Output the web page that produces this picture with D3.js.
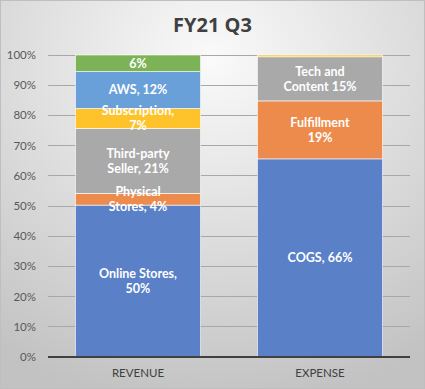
<!DOCTYPE html>
<html>
<head>
<meta charset="utf-8">
<script src="https://cdn.jsdelivr.net/npm/d3@7"></script>
<style>
  body { margin: 0; }
  svg { display: block; font-family: Lato, "Open Sans", sans-serif; }
</style>
</head>
<body>
<svg width="425" height="389"></svg>
<script>
const categories = ["REVENUE", "EXPENSE"];

// segments bottom -> top
const revenueNames = ["Online Stores", "Physical Stores", "Third-party Seller", "Subscription", "AWS", "Other"];
const revenueValues = [50.3, 3.9, 21.5, 6.6, 12.2, 5.5];
const revenueLabels = [["Online Stores,", "50%"], ["Physical", "Stores, 4%"], ["Third-party", "Seller, 21%"], ["Subscription,", "7%"], ["AWS, 12%"], ["6%"]];
const revenueColors = ["#5a80c8", "#ed8b4c", "#a9a9a9", "#fec32b", "#6aa0d9", "#7cb357"];

const expenseNames = ["COGS", "Fulfillment", "Tech and Content", "Other"];
const expenseValues = [65.6, 19.2, 14.6, 0.6];
const expenseLabels = [["COGS, 66%"], ["Fulfillment", "19%"], ["Tech and", "Content  15%"], []];
const expenseColors = ["#5a80c8", "#ed8b4c", "#a9a9a9", "#fec32b"];

const yTicks = [0, 10, 20, 30, 40, 50, 60, 70, 80, 90, 100];

const svg = d3.select("svg");
const W = 425, H = 389;

// background
const defs = svg.append("defs");
const grad = defs.append("radialGradient")
    .attr("id", "bg").attr("cx", "50%").attr("cy", "15%").attr("r", "90%");
grad.append("stop").attr("offset", "0%").attr("stop-color", "#fafafa");
grad.append("stop").attr("offset", "100%").attr("stop-color", "#c2c2c2");
svg.append("rect").attr("x", 0.5).attr("y", 0.5).attr("width", W - 1).attr("height", H - 1)
    .attr("fill", "url(#bg)").attr("stroke", "#bfbfbf");

svg.append("text")
    .attr("x", W / 2).attr("y", 32)
    .attr("text-anchor", "middle")
    .attr("font-family", "'Open Sans', sans-serif")
    .attr("font-size", 20).attr("font-weight", "bold")
    .attr("fill", "#404040")
    .text("FY21 Q3");

const plotLeft = 48, plotRight = 410, plotTop = 55, plotBottom = 357;

const x = d3.scaleBand().domain(categories).range([plotLeft, plotRight]).paddingInner(0.313).paddingOuter(0.151);
const y = d3.scaleLinear().domain([0, 100]).range([plotBottom, plotTop]);

// gridlines
svg.append("g").selectAll("line")
    .data(yTicks.slice(1))
    .join("line")
    .attr("x1", plotLeft).attr("x2", plotRight)
    .attr("y1", d => y(d)).attr("y2", d => y(d))
    .attr("stroke", "#a8a8a8").attr("stroke-width", 1)
    .attr("shape-rendering", "crispEdges");

// y axis labels
svg.append("g").selectAll("text")
    .data(yTicks)
    .join("text")
    .attr("x", 36).attr("y", d => y(d))
    .attr("dy", "0.35em")
    .attr("text-anchor", "end")
    .attr("font-size", 11.5)
    .attr("fill", "#595959")
    .text(d => d + "%");

const series = [
  { cat: "REVENUE", names: revenueNames, values: revenueValues, labels: revenueLabels, colors: revenueColors },
  { cat: "EXPENSE", names: expenseNames, values: expenseValues, labels: expenseLabels, colors: expenseColors }
];

series.forEach(s => {
    let acc = 0;
    const segs = s.values.map((v, i) => {
        const seg = { y0: acc, y1: acc + v, label: s.labels[i], color: s.colors[i] };
        acc += v;
        return seg;
    });
    const g = svg.append("g");
    g.selectAll("rect")
        .data(segs)
        .join("rect")
        .attr("x", x(s.cat))
        .attr("width", x.bandwidth())
        .attr("y", d => y(d.y1))
        .attr("height", d => y(d.y0) - y(d.y1))
        .attr("fill", d => d.color)
        .attr("stroke", "#ffffff").attr("stroke-width", 0.6);

    const lg = g.selectAll("text")
        .data(segs)
        .join("text")
        .attr("text-anchor", "middle")
        .attr("font-size", 12.5)
        .attr("font-weight", "bold")
        .attr("fill", "#ffffff")
        .attr("transform", d => {
            const cy = (y(d.y0) + y(d.y1)) / 2;
            const n = d.label.length;
            return `translate(${x(s.cat) + x.bandwidth() / 2}, ${cy - (n - 1) * 7.5})`;
        });
    lg.selectAll("tspan")
        .data(d => d.label)
        .join("tspan")
        .attr("x", 0)
        .attr("dy", (d, i) => i === 0 ? "0.35em" : "15")
        .text(d => d);
});

// baseline
svg.append("line")
    .attr("x1", plotLeft).attr("x2", plotRight)
    .attr("y1", plotBottom).attr("y2", plotBottom)
    .attr("stroke", "#404040").attr("stroke-width", 2);

// category labels
svg.append("g").selectAll("text")
    .data(categories)
    .join("text")
    .attr("x", d => x(d) + x.bandwidth() / 2)
    .attr("y", 377)
    .attr("text-anchor", "middle")
    .attr("font-size", 11.5)
    .attr("fill", "#404040")
    .text(d => d);
</script>
</body>
</html>
